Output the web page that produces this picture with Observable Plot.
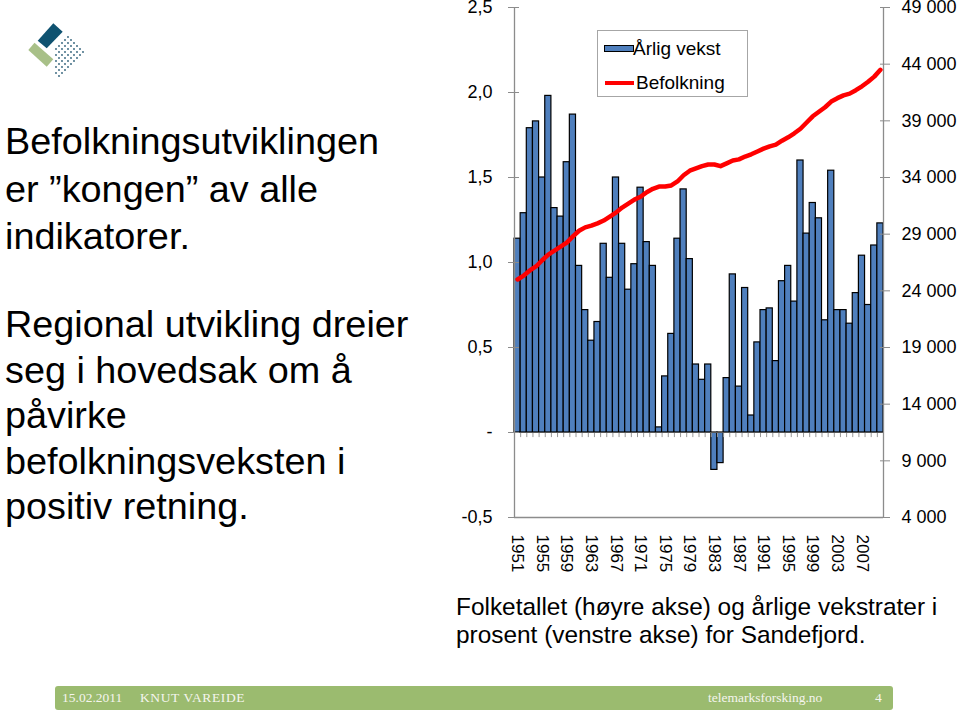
<!DOCTYPE html>
<html><head><meta charset="utf-8">
<script src="https://cdn.jsdelivr.net/npm/d3@7"></script>
<script src="https://cdn.jsdelivr.net/npm/@observablehq/plot@0.6"></script>
<style>
html,body{margin:0;padding:0;background:#fff;}
body{width:959px;height:714px;position:relative;overflow:hidden;font-family:"Liberation Sans",Arial,sans-serif;color:#000;}
.abs{position:absolute;}
.para{left:5px;font-size:37.8px;white-space:nowrap;}
#p1{top:118px;line-height:47.5px;}
#p2{top:302px;line-height:45.5px;}
#chart{left:420px;top:0px;}
#legend{left:597px;top:30px;width:151px;height:67px;border:1px solid #a6a6a6;background:#fff;box-sizing:border-box;}
.lg{position:absolute;font-size:19px;line-height:22px;white-space:nowrap;}
#caption{left:456px;top:593px;font-size:24.4px;line-height:28px;white-space:nowrap;}
#footer{left:55px;top:686px;width:838px;height:24px;background:#9bbb6f;border-radius:3px;}
.ft{position:absolute;top:4px;font-family:"Liberation Serif","DejaVu Serif",serif;font-size:13.5px;color:#f5f5ee;white-space:nowrap;}
</style></head>
<body>
<svg class="abs" style="left:0;top:0" width="110" height="100" id="logo"></svg>
<div id="p1" class="abs para">Befolkningsutviklingen<br>er ”kongen” av alle<br>indikatorer.</div>
<div id="p2" class="abs para">Regional utvikling dreier<br>seg i hovedsak om å<br>påvirke<br>befolkningsveksten i<br>positiv retning.</div>
<div id="chart" class="abs"></div>
<div id="legend" class="abs">
  <div style="position:absolute;left:6px;top:14px;width:28px;height:5px;background:#4f7fbd;border:1px solid #000;"></div>
  <div class="lg" style="left:35px;top:7px;">Årlig vekst</div>
  <div style="position:absolute;left:7px;top:50px;width:29px;height:4px;background:#ff0000;"></div>
  <div class="lg" style="left:38px;top:41px;">Befolkning</div>
</div>
<div id="caption" class="abs">Folketallet (høyre akse) og årlige vekstrater i<br>prosent (venstre akse) for Sandefjord.</div>
<div id="footer" class="abs">
  <div class="ft" style="left:7px;">15.02.2011</div>
  <div class="ft" style="left:85px;letter-spacing:0.6px;">KNUT VAREIDE</div>
  <div class="ft" style="left:653px;">telemarksforsking.no</div>
  <div class="ft" style="left:820px;">4</div>
</div>
<script>
// ---- data ----
const years = [1951,1952,1953,1954,1955,1956,1957,1958,1959,1960,
  1961,1962,1963,1964,1965,1966,1967,1968,1969,1970,
  1971,1972,1973,1974,1975,1976,1977,1978,1979,1980,
  1981,1982,1983,1984,1985,1986,1987,1988,1989,1990,
  1991,1992,1993,1994,1995,1996,1997,1998,1999,2000,
  2001,2002,2003,2004,2005,2006,2007,2008,2009,2010];
// Årlig vekst (prosent, venstre akse)
const growth = [1.14,1.29,1.79,1.83,1.50,1.98,1.32,1.27,1.59,1.87,
  0.98,0.72,0.54,0.65,1.11,0.91,1.50,1.11,0.84,0.99,
  1.44,1.12,0.98,0.03,0.33,0.58,1.14,1.43,1.02,0.40,
  0.31,0.40,-0.22,-0.18,0.32,0.93,0.27,0.85,0.10,0.53,
  0.72,0.73,0.42,0.89,0.98,0.77,1.60,1.17,1.35,1.26,
  0.66,1.54,0.72,0.72,0.64,0.82,1.04,0.75,1.10,1.23];
// Befolkning (høyre akse)
const population = [25000,25350,25800,26150,26700,27200,27550,27900,28250,28800,
  29300,29600,29750,29950,30200,30550,30900,31350,31700,32050,
  32300,32700,33000,33200,33200,33300,33650,34200,34600,34800,
  35000,35150,35150,35000,35250,35500,35600,35850,36050,36300,
  36550,36750,36900,37250,37550,37900,38300,38850,39400,39800,
  40200,40700,41000,41250,41400,41700,42050,42450,42900,43500];
const leftTicks = [-0.5, 0, 0.5, 1.0, 1.5, 2.0, 2.5];
const popTicks = [4000, 9000, 14000, 19000, 24000, 29000, 34000, 39000, 44000, 49000];
const labelYears = [1951,1955,1959,1963,1967,1971,1975,1979,1983,1987,1991,1995,1999,2003,2007];

// right axis (population) shares the pixel range of the left axis
const popMin = 4000, popMax = 49000, gMin = -0.5, gMax = 2.5;
const popToY = p => gMin + (p - popMin) / (popMax - popMin) * (gMax - gMin);
const yToPop = v => popMin + (v - gMin) / (gMax - gMin) * (popMax - popMin);

const data = years.map((year, i) => ({year, growth: growth[i], pop: population[i]}));

const leftFmt = v => Math.abs(v) < 1e-9 ? "-" : v.toFixed(1).replace(".", ",");
const rightFmt = v => d3.format(",")(Math.round(yToPop(v))).replace(/,/g, "\u00a0");

const plot = Plot.plot({
  width: 539, height: 600,
  marginLeft: 94, marginRight: 76, marginTop: 7, marginBottom: 83,
  x: {domain: [years[0] - 0.5, years[years.length - 1] + 0.5]},
  y: {domain: [gMin, gMax]},
  style: {fontFamily: "'Liberation Sans', Arial, sans-serif", fontSize: "18px", color: "#000", background: "transparent", overflow: "visible"},
  marks: [
    Plot.rect(data, {x1: d => d.year - 0.5, x2: d => d.year + 0.5, y1: 0, y2: "growth", fill: "#4f7fbd", stroke: "#000", strokeWidth: 1.2}),
    Plot.ruleX(years.slice(1), {x: d => d - 0.5, y1: 0, y2: -0.03, stroke: "#999"}),
    Plot.ruleY([0], {stroke: "#555"}),
    Plot.ruleY([gMin], {stroke: "#8c8c8c", strokeWidth: 1.3}),
    Plot.ruleX([years[0] - 0.5, years[years.length - 1] + 0.5], {y1: gMin, y2: gMax, stroke: "#8c8c8c", strokeWidth: 1.3}),
    Plot.line(data, {x: "year", y: d => popToY(d.pop), stroke: "#ff0000", strokeWidth: 4.5, curve: "linear"}),
    Plot.axisY({anchor: "left", ticks: leftTicks, tickFormat: leftFmt, tickSize: 11, tickPadding: 16, dx: 5, stroke: "#8c8c8c", label: null, fontSize: 18}),
    Plot.axisY({anchor: "right", ticks: popTicks.map(popToY), tickFormat: rightFmt, tickSize: 10, tickPadding: 12, dx: -4, stroke: "#8c8c8c", label: null, fontSize: 18}),
    Plot.axisX({ticks: labelYears, tickFormat: d => String(d), tickRotate: 90, tickSize: 0, tickPadding: 17, label: null, fontSize: 17})
  ]
});
document.getElementById("chart").appendChild(plot);

// ---- logo (decoration) ----
const ns = "http://www.w3.org/2000/svg";
const logo = document.getElementById("logo");
function poly(pts, fill) {
  const p = document.createElementNS(ns, "polygon");
  p.setAttribute("points", pts); p.setAttribute("fill", fill); logo.appendChild(p);
}
poly("37.7,40.7 53.3,23.3 62.7,31.7 46.7,48.3", "#0f5270");
poly("28.3,50 34.5,42.7 53.3,59.3 46.7,66.7", "#a8c088");
for (let i = 0; i < 6; i++) {
  for (let j = 0; j < 9; j++) {
    if (j > i + 4) continue;
    const cx = 65 + i * 3 - j * 3 + 3, cy = 34 + i * 3 + j * 3 + 3;
    if (cx < 50 && cy < 66) continue;
    const c = document.createElementNS(ns, "circle");
    c.setAttribute("cx", cx); c.setAttribute("cy", cy); c.setAttribute("r", 0.9);
    c.setAttribute("fill", "#2d5f78"); logo.appendChild(c);
  }
}
</script>
</body></html>
